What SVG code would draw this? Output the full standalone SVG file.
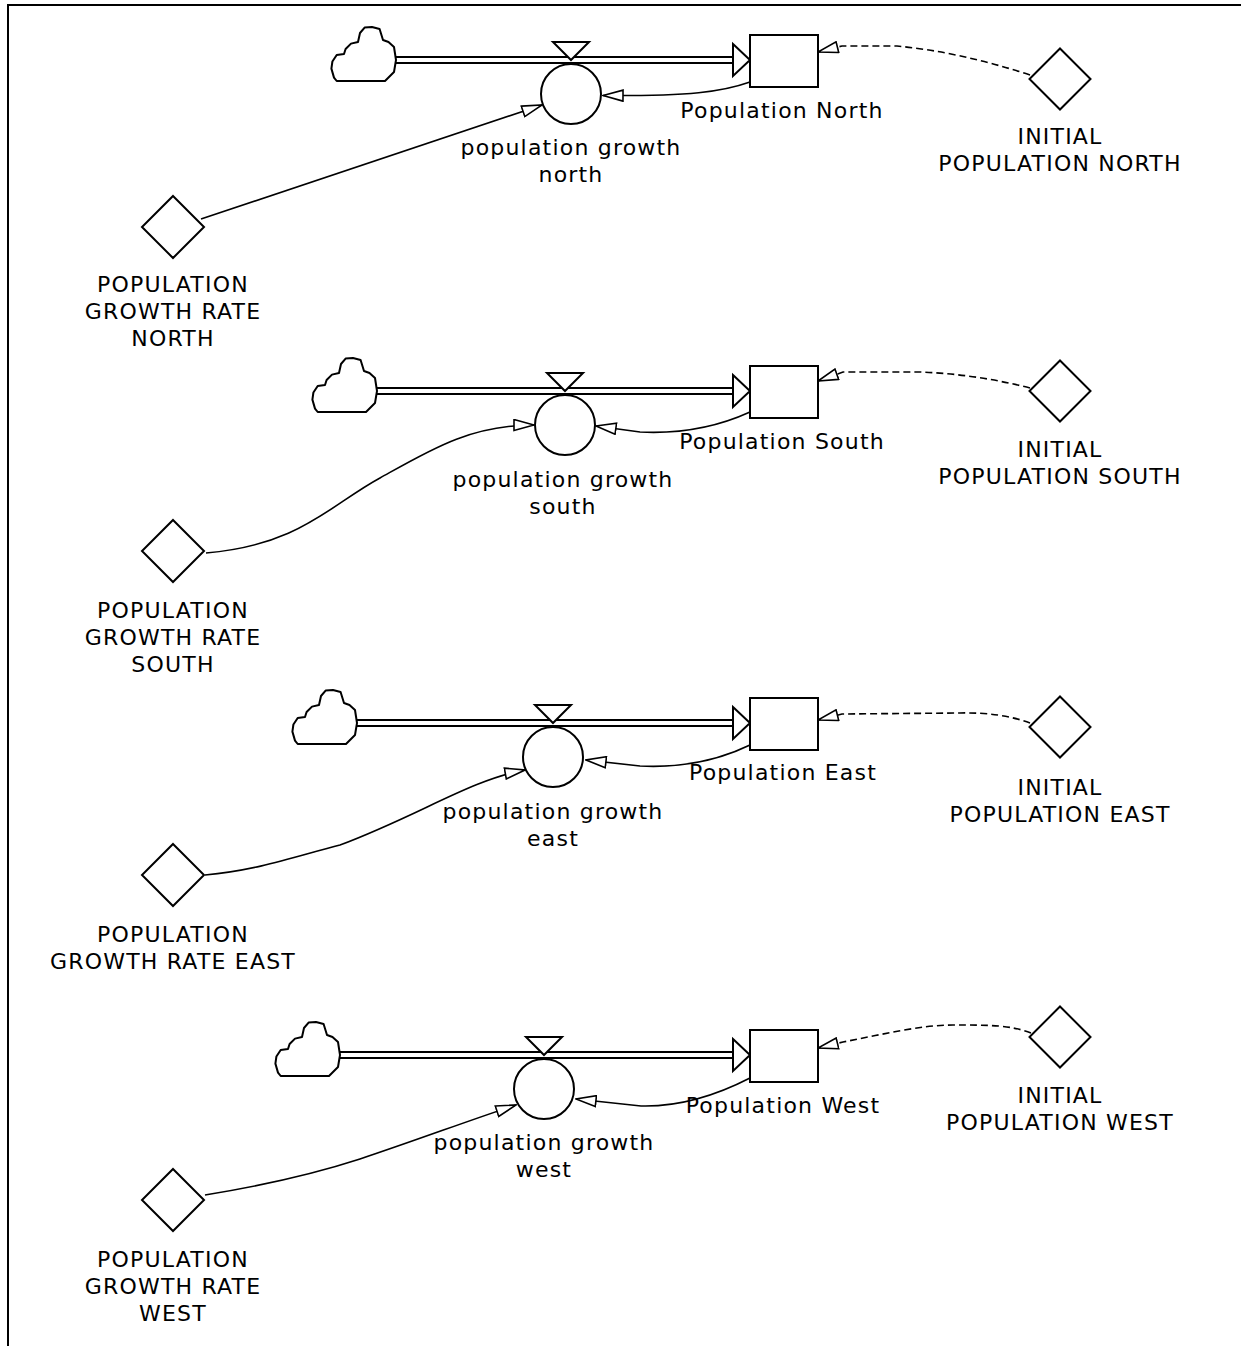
<svg xmlns="http://www.w3.org/2000/svg" xmlns:xlink="http://www.w3.org/1999/xlink" width="1241" height="1346" viewBox="0 0 1241 1346">
<style>
.t{font-family:"DejaVu Sans","Liberation Sans",sans-serif;font-size:22px;letter-spacing:1.2px;text-anchor:middle;fill:#000}
.sh{fill:#fff;stroke:#000;stroke-width:2}
.pipe{fill:none;stroke:#000;stroke-width:2}
.lk{fill:none;stroke:#000;stroke-width:1.6;marker-end:url(#ah)}
.dl{fill:none;stroke:#000;stroke-width:1.6;stroke-dasharray:7,4;marker-end:url(#ah)}
</style>
<defs>
<marker id="ah" viewBox="0 0 22 13" refX="21" refY="6.5" markerWidth="22" markerHeight="13" markerUnits="userSpaceOnUse" orient="auto">
<path d="M1,1 L21,6.5 L1,12 Z" fill="#fff" stroke="#000" stroke-width="1.6"/>
</marker>
<path id="cloud" d="M5.7,54 L54,54 L63,45 L65,33 L63,20 L57.5,15 L52,13 L48.6,2 L41,0 L33.6,0.6 L29,6 L27,15 L20,16.6 L14.6,22 L13,27 L5.7,28 L1.4,34.5 L0.4,41.6 L3,50.6 Z" fill="#fff" stroke="#000" stroke-width="2" stroke-linejoin="round"/>
</defs>
<rect width="1241" height="1346" fill="#fff"/>
<path d="M8,1346 L8,5 L1241,5" fill="none" stroke="#000" stroke-width="2"/>

<g id="connectors">
<!-- North -->
<line class="pipe" x1="395" y1="57" x2="733" y2="57"/>
<line class="pipe" x1="395" y1="63" x2="733" y2="63"/>
<polygon class="sh" points="733,44 750,60 733,76"/>
<path class="dl" d="M1030,75 Q 960,52 897,46 L 842,46 L 818,52"/>
<path class="lk" d="M750,82 C 722,92 690,96 603,95.5"/>
<path class="lk" d="M201,219 Q 390,156 542,105"/>
<!-- South -->
<line class="pipe" x1="376" y1="388" x2="733" y2="388"/>
<line class="pipe" x1="376" y1="394" x2="733" y2="394"/>
<polygon class="sh" points="733,375 750,391 733,407"/>
<path class="dl" d="M1030,388 Q 975,374 920,372 L 843,372 L 818,381"/>
<path class="lk" d="M750,412 C 715,428 680,434 640,432 L 596,426"/>
<path class="lk" d="M206,553 C 300,545 330,505 380,478 C 430,450 470,425 534,425"/>
<!-- East -->
<line class="pipe" x1="356" y1="720" x2="733" y2="720"/>
<line class="pipe" x1="356" y1="726" x2="733" y2="726"/>
<polygon class="sh" points="733,707 750,723 733,739"/>
<path class="dl" d="M1030,723 Q 1000,712 960,713 L 842,714 L 818,720"/>
<path class="lk" d="M750,745 C 715,762 680,768 640,766 L 586,760"/>
<path class="lk" d="M205,875 C 260,870 300,855 340,845 C 420,815 470,780 525,770"/>
<!-- West -->
<line class="pipe" x1="339" y1="1052" x2="733" y2="1052"/>
<line class="pipe" x1="339" y1="1058" x2="733" y2="1058"/>
<polygon class="sh" points="733,1039 750,1055 733,1071"/>
<path class="dl" d="M1031,1033 C 1010,1025 990,1025 953,1025 C 920,1025 880,1035 843,1042 L 818,1048"/>
<path class="lk" d="M750,1078 C 715,1096 680,1107 641,1106 L 576,1099"/>
<path class="lk" d="M205,1195 C 260,1186 320,1172 360,1159 C 420,1139 470,1120 516,1105"/>
</g>

<!-- North nodes -->
<g id="cloud-north"><use xlink:href="#cloud" href="#cloud" x="331" y="27"/></g>
<g id="population-growth-north">
<polygon class="sh" points="553,42 589,42 571,60"/>
<circle class="sh" cx="571" cy="94" r="30"/>
<text class="t" x="571" y="155">population growth</text>
<text class="t" x="571" y="182">north</text>
</g>
<g id="population-north">
<rect class="sh" x="750" y="35" width="68" height="52"/>
<text class="t" x="782" y="118">Population North</text>
</g>
<g id="initial-population-north">
<polygon class="sh" points="1060,48.5 1090.5,79 1060,109.5 1029.5,79"/>
<text class="t" x="1060" y="144">INITIAL</text>
<text class="t" x="1060" y="171">POPULATION NORTH</text>
</g>
<g id="population-growth-rate-north">
<polygon class="sh" points="173,196 204,227 173,258 142,227"/>
<text class="t" x="173" y="292">POPULATION</text>
<text class="t" x="173" y="319">GROWTH RATE</text>
<text class="t" x="173" y="346">NORTH</text>
</g>

<!-- South nodes -->
<g id="cloud-south"><use xlink:href="#cloud" href="#cloud" x="312" y="358"/></g>
<g id="population-growth-south">
<polygon class="sh" points="547,373 583,373 565,391"/>
<circle class="sh" cx="565" cy="425" r="30"/>
<text class="t" x="563" y="487">population growth</text>
<text class="t" x="563" y="514">south</text>
</g>
<g id="population-south">
<rect class="sh" x="750" y="366" width="68" height="52"/>
<text class="t" x="782" y="449">Population South</text>
</g>
<g id="initial-population-south">
<polygon class="sh" points="1060,360.5 1090.5,391 1060,421.5 1029.5,391"/>
<text class="t" x="1060" y="457">INITIAL</text>
<text class="t" x="1060" y="484">POPULATION SOUTH</text>
</g>
<g id="population-growth-rate-south">
<polygon class="sh" points="173,520 204,551 173,582 142,551"/>
<text class="t" x="173" y="618">POPULATION</text>
<text class="t" x="173" y="645">GROWTH RATE</text>
<text class="t" x="173" y="672">SOUTH</text>
</g>

<!-- East nodes -->
<g id="cloud-east"><use xlink:href="#cloud" href="#cloud" x="292" y="690"/></g>
<g id="population-growth-east">
<polygon class="sh" points="535,705 571,705 553,723"/>
<circle class="sh" cx="553" cy="757" r="30"/>
<text class="t" x="553" y="819">population growth</text>
<text class="t" x="553" y="846">east</text>
</g>
<g id="population-east">
<rect class="sh" x="750" y="698" width="68" height="52"/>
<text class="t" x="783" y="780">Population East</text>
</g>
<g id="initial-population-east">
<polygon class="sh" points="1060,696.5 1090.5,727 1060,757.5 1029.5,727"/>
<text class="t" x="1060" y="795">INITIAL</text>
<text class="t" x="1060" y="822">POPULATION EAST</text>
</g>
<g id="population-growth-rate-east">
<polygon class="sh" points="173,844 204,875 173,906 142,875"/>
<text class="t" x="173" y="942">POPULATION</text>
<text class="t" x="173" y="969">GROWTH RATE EAST</text>
</g>

<!-- West nodes -->
<g id="cloud-west"><use xlink:href="#cloud" href="#cloud" x="275" y="1022"/></g>
<g id="population-growth-west">
<polygon class="sh" points="526,1037 562,1037 544,1055"/>
<circle class="sh" cx="544" cy="1089" r="30"/>
<text class="t" x="544" y="1150">population growth</text>
<text class="t" x="544" y="1177">west</text>
</g>
<g id="population-west">
<rect class="sh" x="750" y="1030" width="68" height="52"/>
<text class="t" x="783" y="1113">Population West</text>
</g>
<g id="initial-population-west">
<polygon class="sh" points="1060,1006.5 1090.5,1037 1060,1067.5 1029.5,1037"/>
<text class="t" x="1060" y="1103">INITIAL</text>
<text class="t" x="1060" y="1130">POPULATION WEST</text>
</g>
<g id="population-growth-rate-west">
<polygon class="sh" points="173,1169 204,1200 173,1231 142,1200"/>
<text class="t" x="173" y="1267">POPULATION</text>
<text class="t" x="173" y="1294">GROWTH RATE</text>
<text class="t" x="173" y="1321">WEST</text>
</g>
</svg>
